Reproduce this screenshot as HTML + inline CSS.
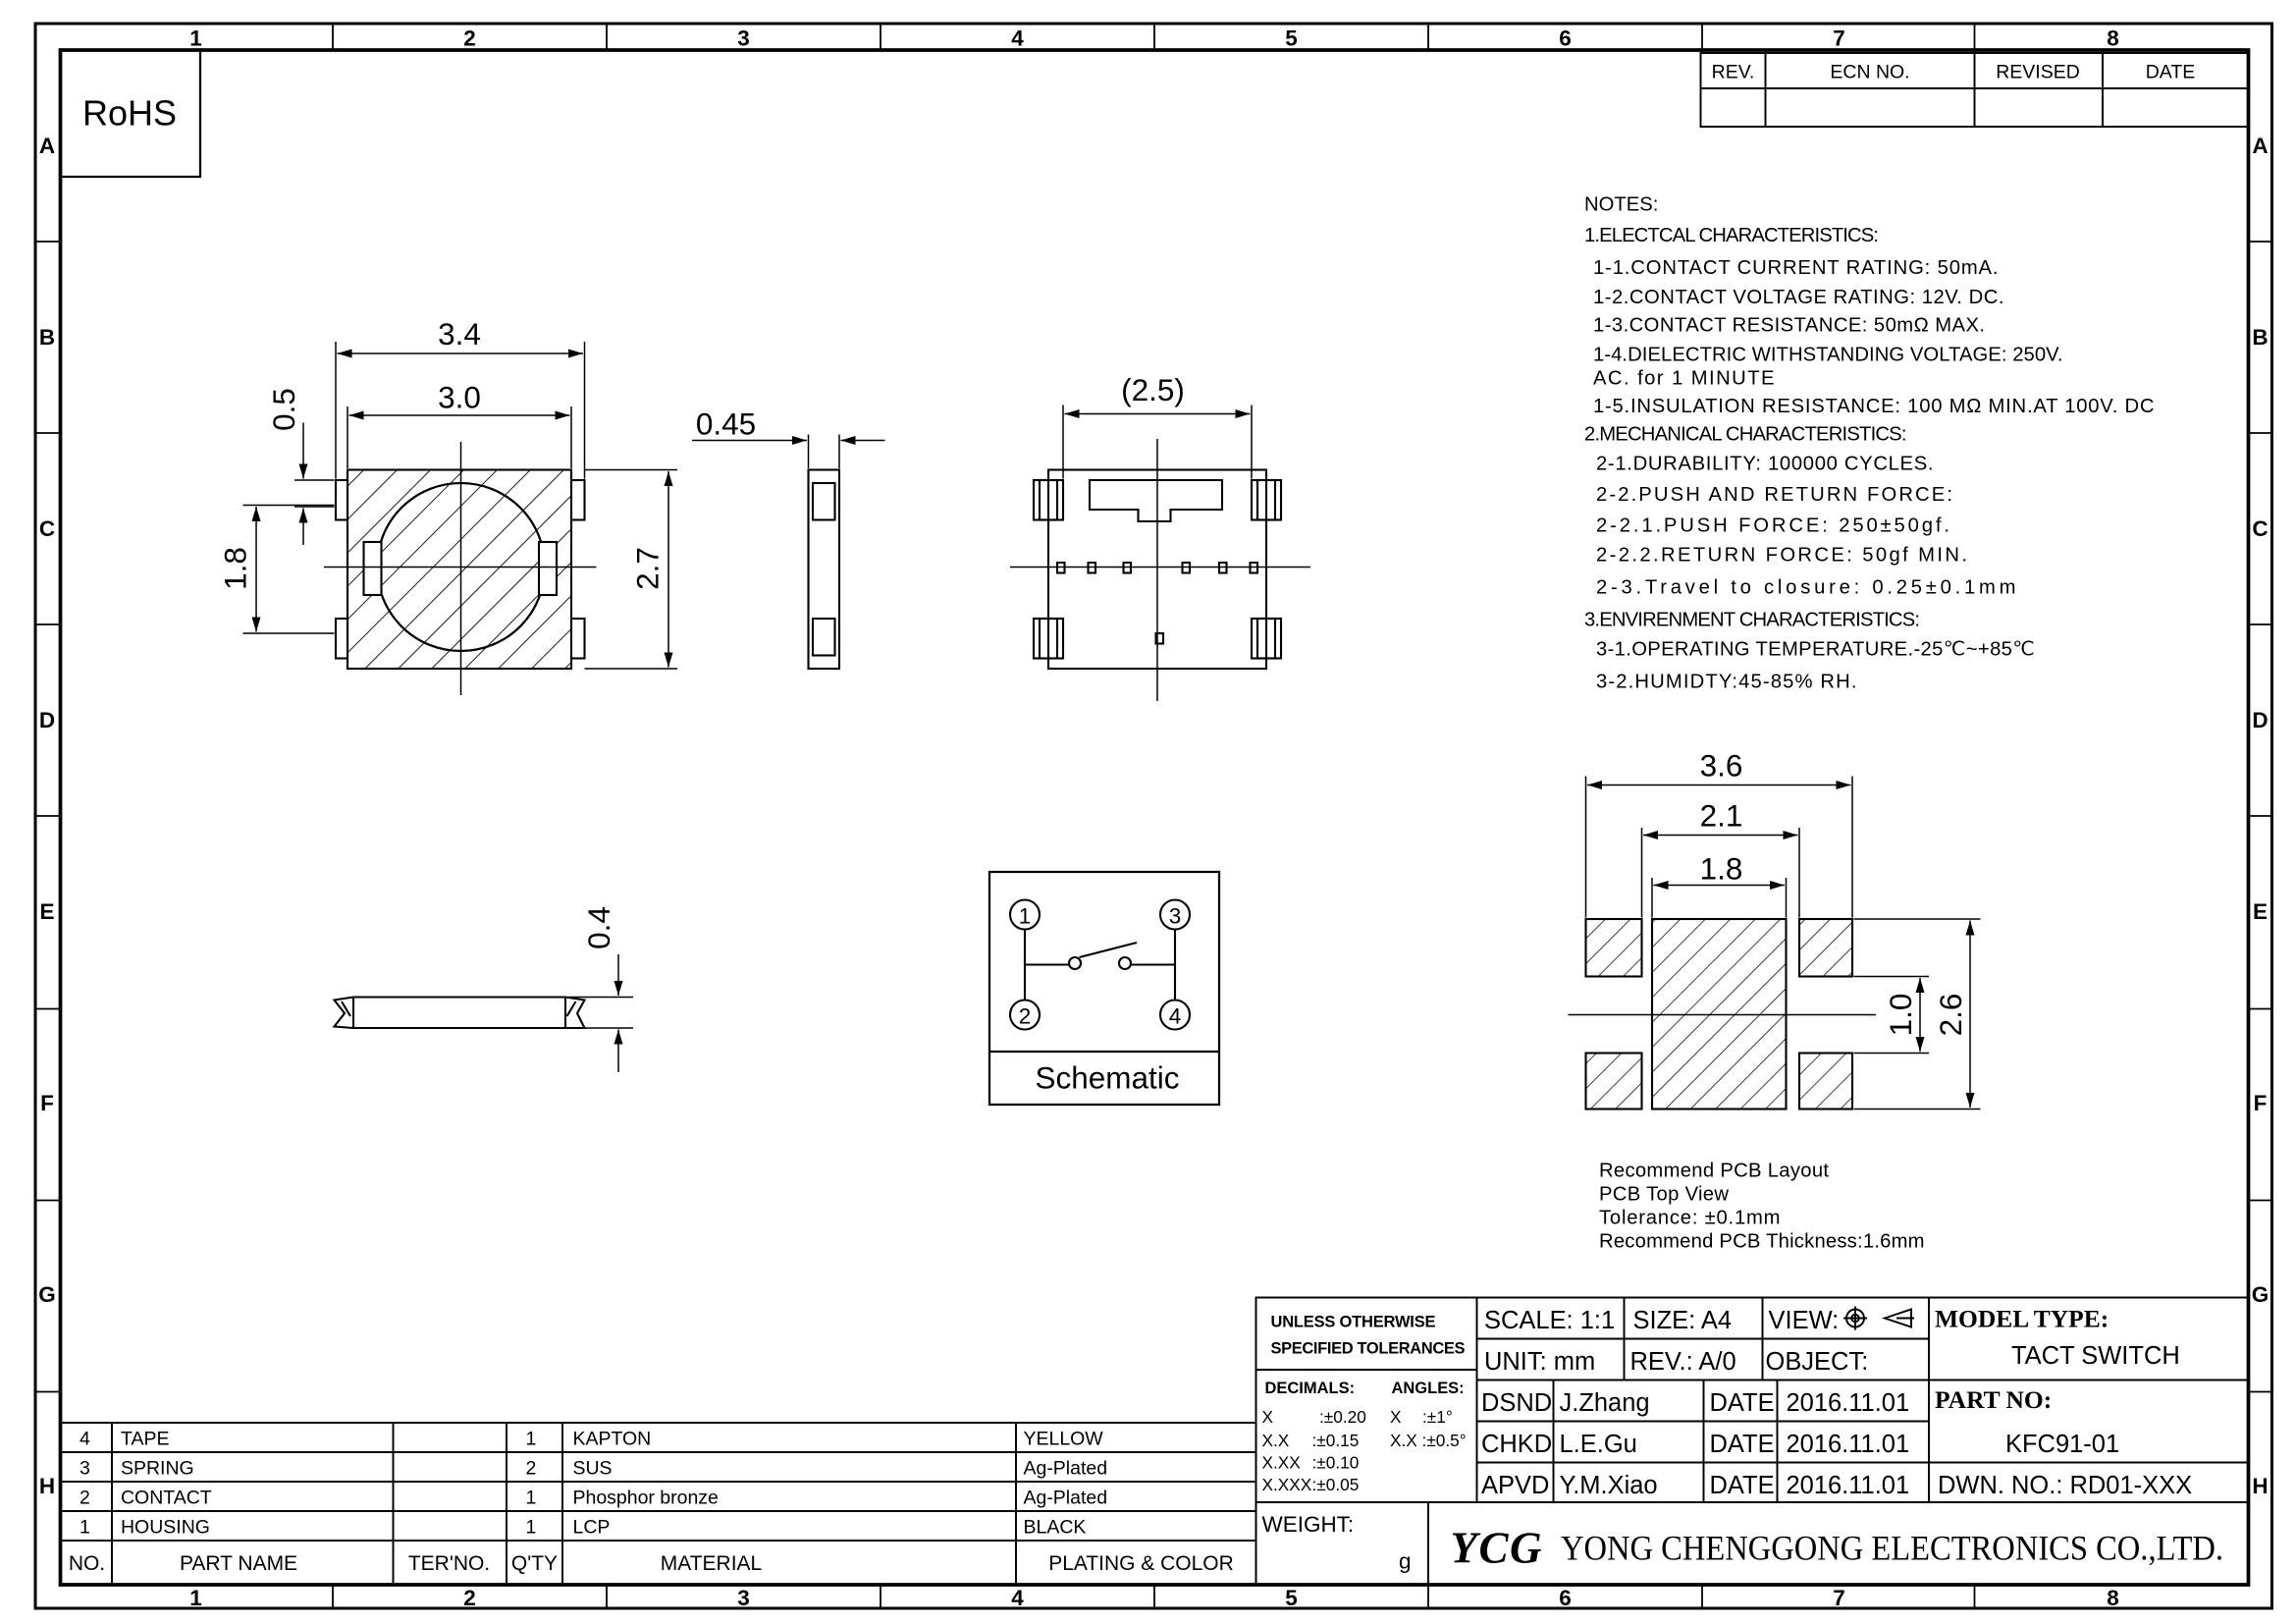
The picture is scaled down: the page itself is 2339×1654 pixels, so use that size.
<!DOCTYPE html>
<html><head><meta charset="utf-8"><style>html,body{margin:0;padding:0;background:#fff}svg{display:block}</style></head>
<body>
<svg xmlns="http://www.w3.org/2000/svg" width="2339" height="1654" viewBox="0 0 1559.33 1102.67" font-family="Liberation Sans, sans-serif" fill="none" stroke="#000">
<defs>
<pattern id="h" patternUnits="userSpaceOnUse" width="16" height="16" patternTransform="rotate(45)"><line x1="0" y1="0" x2="0" y2="16" stroke="#000" stroke-width="1.2"/></pattern>
<pattern id="h2" patternUnits="userSpaceOnUse" width="12" height="12" patternTransform="rotate(45)"><line x1="0" y1="0" x2="0" y2="12" stroke="#000" stroke-width="1"/></pattern>
<marker id="a" markerWidth="10" markerHeight="6" refX="10" refY="3" orient="auto-start-reverse" markerUnits="userSpaceOnUse"><path d="M0,0L10,3L0,6z" fill="#000" stroke="none"/></marker>
</defs>
<rect x="0" y="0" width="1560" height="1103" fill="#fff" stroke="none"/>
<rect x="24" y="16" width="1519" height="1076" stroke-width="2"/>
<rect x="41" y="34" width="1486" height="1042" stroke-width="2.5"/>
<g stroke-width="1.2">
<line x1="226" y1="16" x2="226" y2="34"/><line x1="412" y1="16" x2="412" y2="34"/><line x1="598" y1="16" x2="598" y2="34"/><line x1="784" y1="16" x2="784" y2="34"/><line x1="970" y1="16" x2="970" y2="34"/><line x1="1156" y1="16" x2="1156" y2="34"/><line x1="1341" y1="16" x2="1341" y2="34"/>
<line x1="226" y1="1076" x2="226" y2="1092"/><line x1="412" y1="1076" x2="412" y2="1092"/><line x1="598" y1="1076" x2="598" y2="1092"/><line x1="784" y1="1076" x2="784" y2="1092"/><line x1="970" y1="1076" x2="970" y2="1092"/><line x1="1156" y1="1076" x2="1156" y2="1092"/><line x1="1341" y1="1076" x2="1341" y2="1092"/>
<line x1="24" y1="164" x2="41" y2="164"/><line x1="24" y1="294" x2="41" y2="294"/><line x1="24" y1="424" x2="41" y2="424"/><line x1="24" y1="554" x2="41" y2="554"/><line x1="24" y1="685" x2="41" y2="685"/><line x1="24" y1="815" x2="41" y2="815"/><line x1="24" y1="945" x2="41" y2="945"/>
<line x1="1527" y1="164" x2="1543" y2="164"/><line x1="1527" y1="294" x2="1543" y2="294"/><line x1="1527" y1="424" x2="1543" y2="424"/><line x1="1527" y1="554" x2="1543" y2="554"/><line x1="1527" y1="685" x2="1543" y2="685"/><line x1="1527" y1="815" x2="1543" y2="815"/><line x1="1527" y1="945" x2="1543" y2="945"/>
</g>
<g fill="#000" stroke="none" font-size="15" font-weight="bold" text-anchor="middle">
<text x="133" y="31">1</text><text x="319" y="31">2</text><text x="505" y="31">3</text><text x="691" y="31">4</text><text x="877" y="31">5</text><text x="1063" y="31">6</text><text x="1249" y="31">7</text><text x="1435" y="31">8</text>
<text x="133" y="1090">1</text><text x="319" y="1090">2</text><text x="505" y="1090">3</text><text x="691" y="1090">4</text><text x="877" y="1090">5</text><text x="1063" y="1090">6</text><text x="1249" y="1090">7</text><text x="1435" y="1090">8</text>
<text x="32" y="104">A</text><text x="32" y="234">B</text><text x="32" y="364">C</text><text x="32" y="494">D</text><text x="32" y="624">E</text><text x="32" y="754">F</text><text x="32" y="884">G</text><text x="32" y="1014">H</text>
<text x="1535" y="104">A</text><text x="1535" y="234">B</text><text x="1535" y="364">C</text><text x="1535" y="494">D</text><text x="1535" y="624">E</text><text x="1535" y="754">F</text><text x="1535" y="884">G</text><text x="1535" y="1014">H</text>
</g>
<rect x="41" y="34" width="95" height="86" stroke-width="1.5"/>
<text x="88" y="85" font-size="24" fill="#000" stroke="none" text-anchor="middle">RoHS</text>
<g stroke-width="1.3"><rect x="1155" y="36" width="372" height="50"/><line x1="1155" y1="60" x2="1527" y2="60"/><line x1="1199" y1="36" x2="1199" y2="86"/><line x1="1341" y1="36" x2="1341" y2="86"/><line x1="1428" y1="36" x2="1428" y2="86"/></g>
<g fill="#000" stroke="none" font-size="13" text-anchor="middle"><text x="1177" y="53">REV.</text><text x="1270" y="53">ECN NO.</text><text x="1384" y="53">REVISED</text><text x="1474" y="53">DATE</text></g>
<g fill="#000" stroke="none" font-size="13.5">
<text x="1076" y="143">NOTES:</text>
<text x="1076" y="164" textLength="200">1.ELECTCAL  CHARACTERISTICS:</text>
<text x="1082" y="186" textLength="275">1-1.CONTACT  CURRENT  RATING:   50mA.</text>
<text x="1082" y="206" textLength="279">1-2.CONTACT  VOLTAGE  RATING:  12V.  DC.</text>
<text x="1082" y="225" textLength="266">1-3.CONTACT  RESISTANCE:  50mΩ  MAX.</text>
<text x="1082" y="245" textLength="319">1-4.DIELECTRIC  WITHSTANDING  VOLTAGE:  250V.</text>
<text x="1082" y="261" textLength="123">AC.  for  1  MINUTE</text>
<text x="1082" y="280" textLength="381">1-5.INSULATION  RESISTANCE:  100  MΩ  MIN.AT  100V.  DC</text>
<text x="1076" y="299" textLength="219">2.MECHANICAL  CHARACTERISTICS:</text>
<text x="1084" y="319" textLength="229">2-1.DURABILITY:  100000  CYCLES.</text>
<text x="1084" y="340" textLength="242">2-2.PUSH  AND  RETURN  FORCE:</text>
<text x="1084" y="361" textLength="240">2-2.1.PUSH  FORCE:  250±50gf.</text>
<text x="1084" y="381" textLength="252">2-2.2.RETURN  FORCE:  50gf  MIN.</text>
<text x="1084" y="403" textLength="285">2-3.Travel  to  closure:    0.25±0.1mm</text>
<text x="1076" y="425" textLength="228">3.ENVIRENMENT  CHARACTERISTICS:</text>
<text x="1084" y="445" textLength="298">3-1.OPERATING  TEMPERATURE.-25℃~+85℃</text>
<text x="1084" y="467" textLength="177">3-2.HUMIDTY:45-85%  RH.</text>
<text x="1086" y="799" textLength="156">Recommend  PCB  Layout</text>
<text x="1086" y="815" textLength="88">PCB  Top  View</text>
<text x="1086" y="831" textLength="123">Tolerance:  ±0.1mm</text>
<text x="1086" y="847" textLength="221">Recommend  PCB  Thickness:1.6mm</text>
</g>
<g stroke-width="1.4">
<rect x="236" y="319" width="152" height="135" fill="url(#h)"/>
<circle cx="313" cy="385" r="57" fill="#fff"/>
<circle cx="313" cy="385" r="57" fill="url(#h)"/>
<rect x="247" y="368" width="12" height="36" fill="#fff"/><rect x="366" y="368" width="12" height="36" fill="#fff"/>
<rect x="228" y="326" width="8" height="27" fill="#fff"/><rect x="228" y="420" width="8" height="27" fill="#fff"/>
<rect x="388" y="326" width="9" height="27" fill="#fff"/><rect x="388" y="420" width="9" height="27" fill="#fff"/>
</g>
<g stroke-width="1">
<line x1="313" y1="300" x2="313" y2="472"/><line x1="220" y1="385" x2="405" y2="385"/>
<line x1="228" y1="232" x2="228" y2="325"/><line x1="397" y1="232" x2="397" y2="325"/>
<line x1="229" y1="240" x2="396" y2="240" marker-start="url(#a)" marker-end="url(#a)"/>
<line x1="236" y1="276" x2="236" y2="318"/><line x1="388" y1="276" x2="388" y2="318"/>
<line x1="237" y1="282" x2="387" y2="282" marker-start="url(#a)" marker-end="url(#a)"/>
<line x1="200" y1="326" x2="227" y2="326"/><line x1="200" y1="344" x2="227" y2="344"/>
<line x1="206" y1="287" x2="206" y2="325" marker-end="url(#a)"/><line x1="206" y1="370" x2="206" y2="345" marker-end="url(#a)"/>
<line x1="165" y1="343" x2="227" y2="343"/><line x1="165" y1="430" x2="227" y2="430"/>
<line x1="174" y1="344" x2="174" y2="429" marker-start="url(#a)" marker-end="url(#a)"/>
<line x1="397" y1="319" x2="460" y2="319"/><line x1="397" y1="454" x2="460" y2="454"/>
<line x1="454" y1="320" x2="454" y2="453" marker-start="url(#a)" marker-end="url(#a)"/>
</g>
<g fill="#000" stroke="none" font-size="21" text-anchor="middle">
<text x="312" y="234">3.4</text><text x="312" y="277">3.0</text>
<text x="493" y="295">0.45</text>
<text transform="translate(200,278) rotate(-90)">0.5</text>
<text transform="translate(167,386) rotate(-90)">1.8</text>
<text transform="translate(447,386) rotate(-90)">2.7</text>
<text x="783" y="272">(2.5)</text>
<text x="1169" y="527">3.6</text><text x="1169" y="561">2.1</text><text x="1169" y="597">1.8</text>
<text transform="translate(1298,689) rotate(-90)">1.0</text>
<text transform="translate(1332,689) rotate(-90)">2.6</text>
<text transform="translate(414,630) rotate(-90)">0.4</text>
</g>
<g stroke-width="1.4"><rect x="549" y="319" width="21" height="135"/><rect x="552" y="328" width="15" height="25"/><rect x="552" y="420" width="15" height="25"/></g>
<g stroke-width="1"><line x1="549" y1="295" x2="549" y2="318"/><line x1="570" y1="295" x2="570" y2="318"/><line x1="470" y1="299" x2="548" y2="299" marker-end="url(#a)"/><line x1="601" y1="299" x2="571" y2="299" marker-end="url(#a)"/></g>
<g stroke-width="1.4">
<rect x="712" y="319" width="148" height="135"/>
<path d="M740,326H830V346H795V354H773V346H740Z"/>
<rect x="702" y="326" width="20" height="27"/><rect x="706" y="326" width="12" height="27"/>
<rect x="702" y="420" width="20" height="27"/><rect x="706" y="420" width="12" height="27"/>
<rect x="850" y="326" width="20" height="27"/><rect x="854" y="326" width="12" height="27"/>
<rect x="850" y="420" width="20" height="27"/><rect x="854" y="420" width="12" height="27"/>
<rect x="718" y="382" width="5" height="7"/><rect x="739" y="382" width="5" height="7"/><rect x="763" y="382" width="5" height="7"/><rect x="803" y="382" width="5" height="7"/><rect x="828" y="382" width="5" height="7"/><rect x="849" y="382" width="5" height="7"/>
<rect x="785" y="430" width="5" height="7"/>
</g>
<g stroke-width="1">
<line x1="786" y1="298" x2="786" y2="476"/><line x1="686" y1="385" x2="890" y2="385"/>
<line x1="722" y1="275" x2="722" y2="325"/><line x1="850" y1="275" x2="850" y2="325"/>
<line x1="723" y1="281" x2="849" y2="281" marker-start="url(#a)" marker-end="url(#a)"/>
</g>
<g stroke-width="1.4">
<path d="M227,679L240,677H384L397,679L392,688L397,698H240L227,697L234,688Z"/>
<path d="M240,677V698M384,677V698M232,680L238,690M391,680L385,690"/>
</g>
<g stroke-width="1"><line x1="386" y1="677" x2="430" y2="677"/><line x1="386" y1="698" x2="430" y2="698"/><line x1="420" y1="648" x2="420" y2="676" marker-end="url(#a)"/><line x1="420" y1="728" x2="420" y2="699" marker-end="url(#a)"/></g>
<rect x="672" y="592" width="156" height="158" stroke-width="1.5"/>
<line x1="672" y1="714" x2="828" y2="714" stroke-width="1.5"/>
<text x="752" y="739" font-size="21" fill="#000" stroke="none" text-anchor="middle">Schematic</text>
<g stroke-width="1.4">
<ellipse cx="696" cy="621" rx="10" ry="10"/><ellipse cx="696" cy="689" rx="10" ry="10"/><ellipse cx="798" cy="621" rx="10" ry="10"/><ellipse cx="798" cy="689" rx="10" ry="10"/>
<line x1="696" y1="631" x2="696" y2="679"/><line x1="798" y1="631" x2="798" y2="679"/>
<line x1="696" y1="655" x2="726" y2="655"/><line x1="768" y1="655" x2="798" y2="655"/>
<circle cx="730" cy="654" r="4"/><circle cx="764" cy="654" r="4"/><line x1="733" y1="650" x2="772" y2="640"/>
</g>
<g fill="#000" stroke="none" font-size="15" text-anchor="middle"><text x="696" y="627">1</text><text x="696" y="695">2</text><text x="798" y="627">3</text><text x="798" y="695">4</text></g>
<g stroke-width="1.4">
<rect x="1077" y="624" width="38" height="39" fill="url(#h2)"/><rect x="1077" y="715" width="38" height="38" fill="url(#h2)"/>
<rect x="1122" y="624" width="91" height="129" fill="url(#h2)"/>
<rect x="1222" y="624" width="36" height="39" fill="url(#h2)"/><rect x="1222" y="715" width="36" height="38" fill="url(#h2)"/>
</g>
<g stroke-width="1">
<line x1="1065" y1="689" x2="1274" y2="689"/>
<line x1="1077" y1="527" x2="1077" y2="623"/><line x1="1258" y1="527" x2="1258" y2="623"/>
<line x1="1078" y1="533" x2="1257" y2="533" marker-start="url(#a)" marker-end="url(#a)"/>
<line x1="1115" y1="562" x2="1115" y2="623"/><line x1="1222" y1="562" x2="1222" y2="623"/>
<line x1="1116" y1="567" x2="1221" y2="567" marker-start="url(#a)" marker-end="url(#a)"/>
<line x1="1122" y1="596" x2="1122" y2="623"/><line x1="1213" y1="596" x2="1213" y2="623"/>
<line x1="1123" y1="601" x2="1212" y2="601" marker-start="url(#a)" marker-end="url(#a)"/>
<line x1="1259" y1="624" x2="1345" y2="624"/><line x1="1259" y1="753" x2="1345" y2="753"/>
<line x1="1338" y1="625" x2="1338" y2="752" marker-start="url(#a)" marker-end="url(#a)"/>
<line x1="1259" y1="663" x2="1310" y2="663"/><line x1="1259" y1="715" x2="1310" y2="715"/>
<line x1="1304" y1="664" x2="1304" y2="714" marker-start="url(#a)" marker-end="url(#a)"/>
</g>
<g stroke-width="1.3">
<rect x="41" y="966" width="812" height="110"/>
<line x1="41" y1="986" x2="853" y2="986"/><line x1="41" y1="1006" x2="853" y2="1006"/><line x1="41" y1="1026" x2="853" y2="1026"/><line x1="41" y1="1046" x2="853" y2="1046"/>
<line x1="76" y1="966" x2="76" y2="1076"/><line x1="267" y1="966" x2="267" y2="1076"/><line x1="344" y1="966" x2="344" y2="1076"/><line x1="382" y1="966" x2="382" y2="1076"/><line x1="690" y1="966" x2="690" y2="1076"/>
</g>
<g fill="#000" stroke="none" font-size="13">
<text x="54" y="981">4</text><text x="82" y="981">TAPE</text><text x="357" y="981">1</text><text x="389" y="981">KAPTON</text><text x="695" y="981">YELLOW</text>
<text x="54" y="1001">3</text><text x="82" y="1001">SPRING</text><text x="357" y="1001">2</text><text x="389" y="1001">SUS</text><text x="695" y="1001">Ag-Plated</text>
<text x="54" y="1021">2</text><text x="82" y="1021">CONTACT</text><text x="357" y="1021">1</text><text x="389" y="1021">Phosphor  bronze</text><text x="695" y="1021">Ag-Plated</text>
<text x="54" y="1041">1</text><text x="82" y="1041">HOUSING</text><text x="357" y="1041">1</text><text x="389" y="1041">LCP</text><text x="695" y="1041">BLACK</text>
<g font-size="14" text-anchor="middle"><text x="59" y="1066">NO.</text><text x="162" y="1066">PART NAME</text><text x="305" y="1066">TER'NO.</text><text x="363" y="1066">Q'TY</text><text x="483" y="1066">MATERIAL</text><text x="775" y="1066">PLATING &amp; COLOR</text></g>
</g>
<g stroke-width="1.3">
<rect x="853" y="881" width="674" height="195"/>
<line x1="853" y1="930" x2="1003" y2="930"/><line x1="853" y1="1020" x2="1527" y2="1020"/><line x1="970" y1="1020" x2="970" y2="1076"/>
<line x1="1003" y1="881" x2="1003" y2="1020"/>
<line x1="1003" y1="909" x2="1310" y2="909"/><line x1="1003" y1="937" x2="1527" y2="937"/><line x1="1003" y1="965" x2="1310" y2="965"/><line x1="1003" y1="993" x2="1527" y2="993"/>
<line x1="1103" y1="881" x2="1103" y2="937"/><line x1="1197" y1="881" x2="1197" y2="937"/><line x1="1310" y1="881" x2="1310" y2="1020"/>
<line x1="1055" y1="937" x2="1055" y2="1020"/><line x1="1157" y1="937" x2="1157" y2="1020"/><line x1="1207" y1="937" x2="1207" y2="1020"/>
</g>
<g fill="#000" stroke="none">
<g font-size="11" font-weight="bold"><text x="863" y="901" textLength="112">UNLESS OTHERWISE</text><text x="863" y="919" textLength="132">SPECIFIED TOLERANCES</text><text x="859" y="946">DECIMALS:</text><text x="945" y="946">ANGLES:</text></g>
<g font-size="11.5"><text x="857" y="966">X</text><text x="896" y="966">:±0.20</text><text x="944" y="966">X</text><text x="966" y="966">:±1°</text>
<text x="857" y="982">X.X</text><text x="891" y="982">:±0.15</text><text x="944" y="982">X.X :±0.5°</text>
<text x="857" y="997">X.XX</text><text x="891" y="997">:±0.10</text>
<text x="857" y="1012">X.XXX</text><text x="891" y="1012">:±0.05</text></g>
<text x="857" y="1040" font-size="15">WEIGHT:</text><text x="950" y="1065" font-size="15">g</text>
<g font-size="17"><text x="1008" y="902">SCALE:  1:1</text><text x="1109" y="902">SIZE:  A4</text><text x="1201" y="902">VIEW:</text><text x="1008" y="930">UNIT:  mm</text><text x="1107" y="930">REV.:  A/0</text><text x="1199" y="930">OBJECT:</text>
<text x="1006" y="958">DSND</text><text x="1059" y="958">J.Zhang</text><text x="1161" y="958">DATE</text><text x="1213" y="958">2016.11.01</text>
<text x="1006" y="986">CHKD</text><text x="1059" y="986">L.E.Gu</text><text x="1161" y="986">DATE</text><text x="1213" y="986">2016.11.01</text>
<text x="1006" y="1014">APVD</text><text x="1059" y="1014">Y.M.Xiao</text><text x="1161" y="1014">DATE</text><text x="1213" y="1014">2016.11.01</text>
<text x="1366" y="926">TACT  SWITCH</text><text x="1362" y="986">KFC91-01</text><text x="1316" y="1014">DWN.  NO.:  RD01-XXX</text></g>
<g font-family="Liberation Serif, serif" font-weight="bold" font-size="17"><text x="1314" y="901">MODEL  TYPE:</text><text x="1314" y="956">PART  NO:</text></g>
<text x="985" y="1061" font-family="Liberation Serif, serif" font-weight="bold" font-size="30" font-style="italic" textLength="62">YCG</text>
<text x="1060" y="1059" font-family="Liberation Serif, serif" font-size="24" textLength="450" lengthAdjust="spacingAndGlyphs">YONG  CHENGGONG  ELECTRONICS  CO.,LTD.</text>
</g>
<g stroke-width="1.3"><circle cx="1260" cy="895" r="6"/><circle cx="1260" cy="895" r="2.5"/><line x1="1252" y1="895" x2="1268" y2="895"/><line x1="1260" y1="887" x2="1260" y2="903"/><path d="M1280,895L1298,889V901Z"/><line x1="1288" y1="895" x2="1300" y2="895"/></g>
</svg>
</body></html>
